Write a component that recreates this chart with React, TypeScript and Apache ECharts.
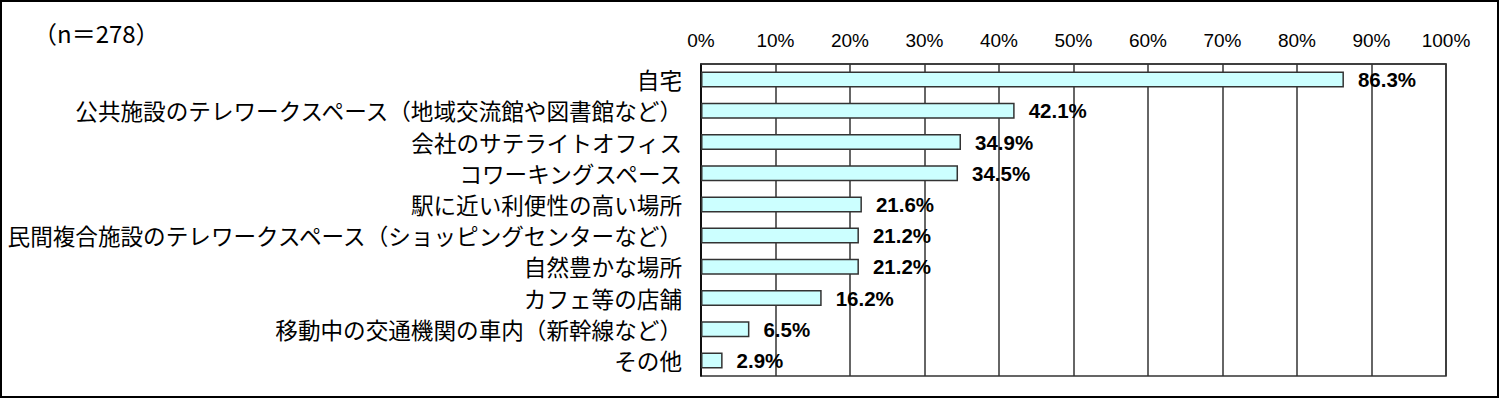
import React, { useEffect, useRef } from "react";
import * as echarts from "echarts";

const categories = [
  "自宅",
  "公共施設のテレワークスペース（地域交流館や図書館など）",
  "会社のサテライトオフィス",
  "コワーキングスペース",
  "駅に近い利便性の高い場所",
  "民間複合施設のテレワークスペース（ショッピングセンターなど）",
  "自然豊かな場所",
  "カフェ等の店舗",
  "移動中の交通機関の車内（新幹線など）",
  "その他",
];
const values = [86.3, 42.1, 34.9, 34.5, 21.6, 21.2, 21.2, 16.2, 6.5, 2.9];
const sampleLabel = "（n＝278）";

export default function App() {
  const ref = useRef<HTMLDivElement>(null);
  useEffect(() => {
    if (!ref.current) return;
    const chart = echarts.init(ref.current, null, { renderer: "svg" });
    chart.setOption({
      animation: false,
      backgroundColor: "#fff",
      grid: {
        left: 701,
        top: 64,
        right: 54,
        bottom: 22,
        show: true,
        borderColor: "#333",
        borderWidth: 1.5,
        containLabel: false,
      },
      xAxis: {
        type: "value",
        position: "top",
        min: 0,
        max: 100,
        interval: 10,
        axisLine: { show: true, lineStyle: { color: "#333", width: 1.5 } },
        axisTick: { show: false },
        axisLabel: {
          formatter: "{value}%",
          fontSize: 19,
          color: "#000",
          margin: 14,
          fontFamily: "Liberation Sans, Arial, sans-serif",
        },
        splitLine: { show: true, lineStyle: { color: "#333", width: 1.5 } },
      },
      yAxis: {
        type: "category",
        inverse: true,
        data: categories,
        axisLine: { show: true, lineStyle: { color: "#000", width: 1.5 } },
        axisTick: { show: false },
        axisLabel: {
          fontSize: 22.6,
          color: "#000",
          margin: 19,
          fontFamily: "Noto Sans CJK JP, sans-serif",
        },
      },
      series: [
        {
          type: "bar",
          data: values,
          barWidth: 16,
          itemStyle: { color: "#CCFFFF", borderColor: "#333", borderWidth: 1.5 },
          label: {
            show: true,
            position: "right",
            distance: 14,
            formatter: (p: any) => p.value.toFixed(1) + "%",
            fontSize: 20.5,
            fontWeight: "bold",
            color: "#000",
            fontFamily: "Liberation Sans, Arial, sans-serif",
          },
        },
      ],
      graphic: [
        {
          type: "text",
          left: 33,
          top: 20,
          style: {
            text: sampleLabel,
            fontSize: 24,
            fill: "#000",
            fontFamily: "Noto Sans CJK JP, sans-serif",
          },
        },
        {
          type: "rect",
          shape: { x: 1, y: 1, width: 1497, height: 396 },
          style: { fill: "none", stroke: "#000", lineWidth: 2 },
          silent: true,
        },
      ],
    });
    return () => chart.dispose();
  }, []);
  return (
    <div
      ref={ref}
      style={{ position: "fixed", left: 0, top: 0, width: 1500, height: 398 }}
    />
  );
}
